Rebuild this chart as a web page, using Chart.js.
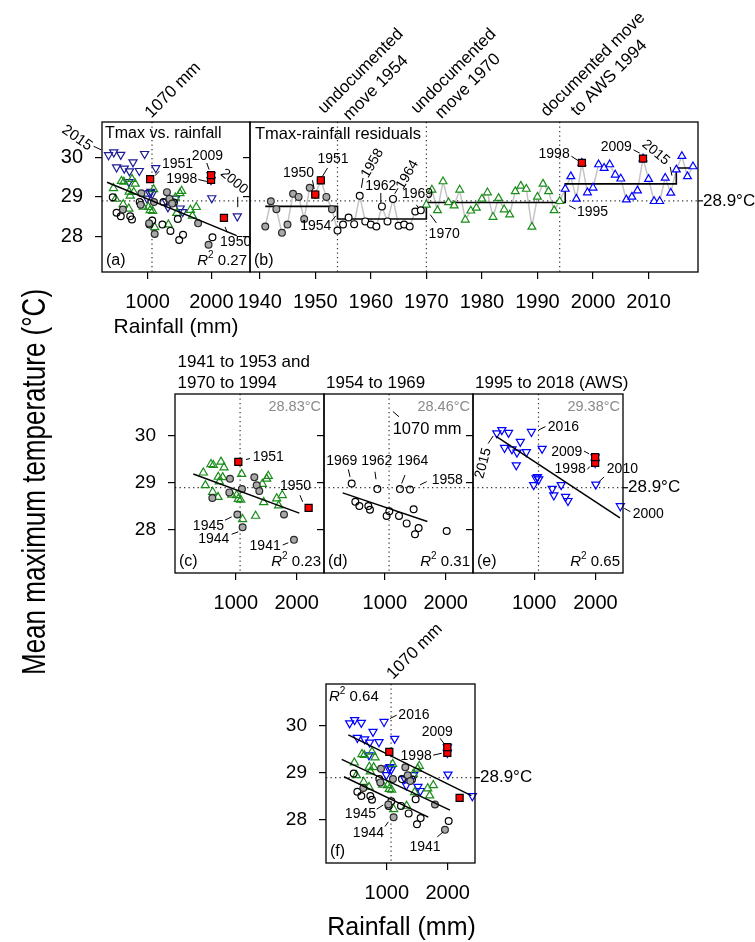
<!DOCTYPE html>
<html>
<head>
<meta charset="utf-8">
<script src="https://cdn.jsdelivr.net/npm/chart.js@4.4.1/dist/chart.umd.min.js"></script>
<style>
  body { margin: 0; background: #fff; }
  #wrap { position: relative; width: 755px; height: 942px; background: #fff; }
  #wrap canvas { position: absolute; left: 0; top: 0; }
</style>
</head>
<body>
<div id="wrap">
  <canvas id="pa" width="755" height="942"></canvas>
  <canvas id="pb" width="755" height="942"></canvas>
  <canvas id="pc" width="755" height="942"></canvas>
  <canvas id="pd" width="755" height="942"></canvas>
  <canvas id="pe" width="755" height="942"></canvas>
  <canvas id="pf" width="755" height="942"></canvas>
</div>
<script>
// ---- values ----
const rainTicks = [1000, 2000];
const tempTicks = [28, 29, 30];
const yearTicks = [1940, 1950, 1960, 1970, 1980, 1990, 2000, 2010];
const refTemp = 28.9;          // dotted horizontal line
const refRain = 1070;          // dotted vertical line (mm)
const moveYears = [1954, 1970, 1994];

// 1941 to 1953 (grey dots), without the red 1950 / 1951
const rain4153 = [904, 1304, 1343, 1386, 1101, 893, 614, 1025, 1112, 1792, 1956];
const tmax4153 = [29.09, 29.12, 28.95, 28.83, 28.87, 28.80, 28.68, 28.33, 28.06, 28.33, 27.79];
// 1954 to 1969 (open circles)
const rain5469 = [455, 877, 1249, 1414, 515, 581, 729, 756, 1074, 1030, 1233, 1474, 1359, 1556, 1496, 2017];
const tmax5469 = [28.99, 28.87, 28.87, 28.86, 28.60, 28.51, 28.51, 28.43, 28.40, 28.30, 28.30, 28.44, 28.14, 28.04, 27.91, 27.98];
// 1970 to 1994 (green triangles)
const rain7094 = [466, 592, 630, 756, 806, 712, 784, 729, 499, 1096, 1534, 1507, 1436, 619, 707, 932, 1014, 1041, 1080, 1458, 1672, 1764, 1704, 1112, 1326];
const tmax7094 = [29.22, 29.40, 29.38, 29.45, 29.33, 29.13, 29.12, 29.03, 28.95, 29.19, 29.15, 29.09, 28.98, 28.81, 28.70, 28.75, 28.74, 28.66, 28.64, 28.59, 28.67, 28.74, 28.52, 28.23, 28.30];
// 1995 to 2018 AWS (blue triangles)
const rainAWS = [389, 471, 581, 954, 773, 515, 636, 718, 871, 1129, 707, 1031, 1074, 1052, 992, 1294, 1441, 1320, 1512, 1551, 2006, 2406, 1995, 1995];
const tmaxAWS = [30.06, 30.13, 30.07, 30.09, 29.88, 29.75, 29.72, 29.65, 29.66, 29.73, 29.38, 29.10, 29.08, 29.13, 28.96, 28.88, 28.96, 28.74, 28.71, 28.62, 28.97, 28.51, 29.55, 29.43];
// red squares
const redYears = [1950, 1951, 1998, 2009];
const redRain = [2197, 1041, 1995, 1995];
const redTmax = [28.47, 29.45, 29.43, 29.55];

// panel (b) residual series
const resYears = [1941, 1942, 1943, 1944, 1945, 1946, 1947, 1948, 1949, 1950, 1951, 1952, 1953,
  1954, 1955, 1956, 1957, 1958, 1959, 1960, 1961, 1962, 1963, 1964, 1965, 1966, 1967, 1968, 1969,
  1970, 1971, 1972, 1973, 1974, 1975, 1976, 1977, 1978, 1979, 1980, 1981, 1982, 1983, 1984, 1985,
  1986, 1987, 1988, 1989, 1990, 1991, 1992, 1993, 1994,
  1995, 1996, 1997, 1998, 1999, 2000, 2001, 2002, 2003, 2004, 2005, 2006, 2007, 2008, 2009, 2010,
  2011, 2012, 2013, 2014, 2015, 2016, 2017, 2018];
const resTmax = [28.25, 28.89, 28.69, 28.09, 28.30, 29.08, 29.00, 28.44, 29.23, 29.06, 29.42, 29.00, 28.69,
  28.15, 28.30, 28.48, 28.31, 29.03, 28.38, 28.30, 28.25, 28.76, 28.38, 28.95, 28.27, 28.30, 28.25, 28.63, 28.66,
  28.80, 29.18, 28.66, 29.39, 28.86, 28.78, 29.18, 28.42, 28.65, 28.72, 28.95, 29.11, 28.49, 28.97, 28.68, 28.55,
  29.14, 29.28, 29.20, 28.24, 29.00, 29.33, 29.14, 28.66, 28.89,
  29.20, 29.52, 28.95, 29.86, 29.11, 29.23, 29.82, 29.73, 29.82, 29.56, 29.46, 28.93, 29.00, 29.16, 29.97, 29.45,
  28.89, 28.89, 29.48, 29.10, 29.69, 30.03, 29.52, 29.77];
const stepYears = [1941, 1954, 1970, 1995, 2015, 2018];
const stepMeans = [28.76, 28.44, 28.86, 29.33, 29.73, 29.73];

// fitted lines (end points)
const fitRainA = [366, 2397], fitTmaxA = [29.37, 28.02];
const fitRainC = [301, 2044], fitTmaxC = [29.19, 28.36];
const fitRainD = [307, 1699], fitTmaxD = [28.79, 28.18];
const fitRainE = [378, 2400], fitTmaxE = [29.99, 28.26];
const fitRainF1 = [367, 2390], fitTmaxF1 = [29.81, 28.52];
const fitRainF2 = [258, 2039], fitTmaxF2 = [29.29, 28.21];
const fitRainF3 = [296, 1682], fitTmaxF3 = [28.92, 28.06];

const periodMeans = ['28.83', '28.46', '29.38'];
const r2Values = {a: '0.27', c: '0.23', d: '0.31', e: '0.65', f: '0.64'};

// ---- helpers ----
const FONT = '"Liberation Sans", Arial, Helvetica, sans-serif';
Chart.defaults.font.family = FONT;
Chart.defaults.font.size = 14;
Chart.defaults.color = '#000';

const pts = (xs, ys) => xs.map((x, i) => ({x: x, y: ys[i]}));
const pick = (yrs) => resYears.map((yr, i) => ({x: yr, y: resTmax[i]})).filter(p => yrs(p.x));
const X = (c, v) => c.scales.x.getPixelForValue(v);
const Y = (c, v) => c.scales.y.getPixelForValue(v);

const CLEAR = 'rgba(0,0,0,0)';
const GREY = {pointStyle: 'circle', pointRadius: 3.4, pointBackgroundColor: '#a8a8a8', pointBorderColor: '#2a2a2a'};
const OPEN = {pointStyle: 'circle', pointRadius: 3.4, pointBackgroundColor: CLEAR, pointBorderColor: '#000'};
const GREEN = {pointStyle: 'triangle', pointRadius: 4.7, pointBackgroundColor: CLEAR, pointBorderColor: '#1a8c1a'};
const BLUE = {pointStyle: 'triangle', pointRotation: 180, pointRadius: 4.7, pointBackgroundColor: CLEAR, pointBorderColor: '#0000ff'};
const NAVY = Object.assign({}, BLUE, {pointBorderColor: '#1c1c96'});
const RED = {pointStyle: 'rect', pointRadius: 5, pointBackgroundColor: '#ff0000', pointBorderColor: '#000'};

function ds(data, style, extra) {
  return Object.assign({data: data, showLine: false, pointBorderWidth: 1.2, clip: false}, style, extra || {});
}
function fitLine(xs, ys) {
  return {data: pts(xs, ys), showLine: true, borderColor: '#000', borderWidth: 1.5, pointRadius: 0, clip: false};
}

function txt(ctx, s, x, y, o) {
  o = o || {};
  ctx.save();
  ctx.font = (o.style ? o.style + ' ' : '') + (o.size || 14) + 'px ' + FONT;
  ctx.fillStyle = o.color || '#000';
  ctx.textAlign = o.align || 'left';
  ctx.textBaseline = o.base || 'middle';
  ctx.translate(x, y);
  if (o.rot) ctx.rotate(o.rot * Math.PI / 180);
  if (o.sy) ctx.scale(1, o.sy);
  ctx.fillText(s, 0, 0);
  ctx.restore();
}

function r2(ctx, x, y, val, align) {
  ctx.save();
  ctx.textBaseline = 'middle';
  ctx.textAlign = 'left';
  ctx.fillStyle = '#000';
  const f1 = 'italic 15px ' + FONT, f2 = '10px ' + FONT, f3 = '15px ' + FONT;
  ctx.font = f1; const w1 = ctx.measureText('R').width;
  ctx.font = f2; const w2 = ctx.measureText('2').width;
  ctx.font = f3; const w3 = ctx.measureText(' ' + val).width;
  const x0 = align === 'right' ? x - (w1 + w2 + w3) : x;
  ctx.font = f1; ctx.fillText('R', x0, y);
  ctx.font = f2; ctx.fillText('2', x0 + w1, y - 6);
  ctx.font = f3; ctx.fillText(' ' + val, x0 + w1 + w2, y);
  ctx.restore();
}

function refLines(c, xs) {
  const ctx = c.ctx, a = c.chartArea;
  ctx.save();
  ctx.strokeStyle = '#333';
  ctx.lineWidth = 1.2;
  ctx.setLineDash([1.3, 3.2]);
  ctx.beginPath();
  const y = Y(c, refTemp);
  ctx.moveTo(a.left, y); ctx.lineTo(a.right, y);
  xs.forEach(v => { const x = X(c, v); ctx.moveTo(x, a.top); ctx.lineTo(x, a.bottom); });
  ctx.stroke();
  ctx.restore();
}

function frame(c) {
  const ctx = c.ctx, a = c.chartArea;
  ctx.save();
  ctx.strokeStyle = '#000';
  ctx.lineWidth = 1.3;
  ctx.strokeRect(a.left, a.top, a.right - a.left, a.bottom - a.top);
  ctx.restore();
}

function notes(c, labels, leaders) {
  const ctx = c.ctx;
  labels.forEach(l => txt(ctx, l.t, X(c, l.x), Y(c, l.y),
    {size: l.size || 14, align: l.al || 'center', rot: l.rot, base: l.base}));
  ctx.save();
  ctx.strokeStyle = '#000';
  ctx.lineWidth = 1;
  ctx.beginPath();
  leaders.forEach(s => { ctx.moveTo(X(c, s[0]), Y(c, s[1])); ctx.lineTo(X(c, s[2]), Y(c, s[3])); });
  ctx.stroke();
  ctx.restore();
}

function rightRef(c) {
  const ctx = c.ctx, a = c.chartArea, y = Y(c, refTemp);
  ctx.save();
  ctx.strokeStyle = '#000';
  ctx.lineWidth = 1.2;
  ctx.beginPath(); ctx.moveTo(a.right, y); ctx.lineTo(a.right + 5, y); ctx.stroke();
  ctx.restore();
  txt(ctx, '28.9°C', a.right + 5, y, {size: 17});
}

function meanTag(c, s) {
  const a = c.chartArea;
  txt(c.ctx, s + '°C', a.right - 3, a.top + 13, {size: 14.5, align: 'right', color: '#8a8a8a'});
}
function corner(c, tag, r2val) {
  const a = c.chartArea;
  txt(c.ctx, tag, a.left + 4, a.bottom - 11, {size: 16});
  if (r2val) r2(c.ctx, a.right - 3, a.bottom - 11, r2val, 'right');
}

function axis(min, max, ticks, fontSize, dir, size) {
  return {
    type: 'linear', min: min, max: max,
    afterBuildTicks: s => { s.ticks = ticks.map(v => ({value: v})); },
    afterFit: s => { if (dir === 'x') s.height = size; else s.width = size; },
    grid: {drawOnChartArea: false, drawTicks: true, tickLength: 7, color: '#000', lineWidth: 1.2},
    border: {display: false},
    ticks: {
      autoSkip: false, maxRotation: 0, minRotation: 0, padding: dir === 'x' ? 11 : 12,
      font: {size: fontSize || 12},
      callback: v => fontSize ? String(v) : ''
    }
  };
}

function panel(id, box, cfg) {
  const YW = cfg.yw || 10, XH = 50;
  return new Chart(document.getElementById(id), {
    type: 'scatter',
    data: {datasets: cfg.datasets},
    options: {
      responsive: false, animation: false, devicePixelRatio: 1, events: [],
      layout: {padding: {left: box[0] - YW, top: box[1], right: 755 - box[2], bottom: 942 - box[3] - XH}},
      plugins: {legend: {display: false}, tooltip: {enabled: false}},
      scales: {
        x: axis(cfg.x[0], cfg.x[1], cfg.xticks || rainTicks, cfg.xfont || 20, 'x', XH),
        y: axis(cfg.y[0], cfg.y[1], tempTicks, cfg.yfont, 'y', YW)
      }
    },
    plugins: [{
      id: 'deco_' + id,
      beforeDatasetsDraw: c => { if (cfg.under) cfg.under(c); },
      afterDatasetsDraw: c => { frame(c); if (cfg.over) cfg.over(c); }
    }]
  });
}

const yTop = [27.099, 30.896];
const yBot = [27.085, 30.894];
const rainRange = [0, 2450];

// ---- (a) Tmax vs. rainfall ----
panel('pa', [102, 122, 250, 272], {
  x: [287, 2605], y: yTop, yw: 60, yfont: 20,
  datasets: [
    ds(pts(redRain, redTmax), RED),
    fitLine(fitRainA, fitTmaxA),
    ds(pts(rain4153, tmax4153), GREY),
    ds(pts(rain5469, tmax5469), OPEN),
    ds(pts(rain7094, tmax7094), GREEN),
    ds(pts(rainAWS, tmaxAWS), NAVY)
  ],
  under: c => refLines(c, [refRain]),
  over: c => {
    const a = c.chartArea;
    txt(c.ctx, 'Tmax vs. rainfall', a.left + 3, a.top + 12, {size: 16});
    corner(c, '(a)', r2Values.a);
    txt(c.ctx, 'Rainfall (mm)', (a.left + a.right) / 2, a.bottom + 61, {size: 21, align: 'center', base: 'alphabetic'});
    notes(c, [
      {t: '1951', x: 1225, y: 29.82, al: 'left'},
      {t: '2009', x: 1938, y: 30.03},
      {t: '1998', x: 1781, y: 29.44, al: 'right'},
      {t: '2000', x: 2355, y: 29.39, rot: 40},
      {t: '1950', x: 2136, y: 27.85, al: 'left'},
      {t: '2015', x: -103, y: 30.49, rot: 35, size: 15},
      {t: '1070 mm', x: 1058, y: 30.98, al: 'left', base: 'alphabetic', rot: -45, size: 17}
    ], [
      [1183, 29.65, 1120, 29.54], [1928, 29.86, 1964, 29.69], [1797, 29.44, 1928, 29.39],
      [2413, 29.0, 2413, 28.74], [2214, 28.24, 2250, 28.10], [156, 30.28, 277, 30.19]
    ]);
  }
});

// ---- (b) residual series ----
panel('pb', [250, 122, 698, 272], {
  x: [1938.25, 2018.9], xticks: yearTicks, y: yTop,
  datasets: [
    ds(pick(y => redYears.includes(y)), RED),
    ds(pick(y => y <= 1953), GREY),
    ds(pick(y => y >= 1954 && y <= 1969), OPEN, {pointBackgroundColor: '#fff'}),
    ds(pick(y => y >= 1970 && y <= 1994), GREEN, {pointBackgroundColor: '#fff', pointRadius: 4.5}),
    ds(pick(y => y >= 1995), BLUE, {pointBackgroundColor: '#fff', pointRotation: 0, pointRadius: 4.5}),
    {data: pts(stepYears, stepMeans), showLine: true, stepped: 'before', borderColor: '#000', borderWidth: 1.6, pointRadius: 0, clip: false},
    {data: pts(resYears, resTmax), showLine: true, borderColor: '#c4c4c4', borderWidth: 1.5, pointRadius: 0}
  ],
  under: c => refLines(c, moveYears),
  over: c => {
    const a = c.chartArea;
    txt(c.ctx, 'Tmax-rainfall residuals', a.left + 5, a.top + 12, {size: 16.5});
    corner(c, '(b)', null);
    rightRef(c);
    notes(c, [
      {t: '1950', x: 1949.8, y: 29.59, al: 'right'},
      {t: '1951', x: 1953.2, y: 29.96},
      {t: '1954', x: 1952.9, y: 28.27, al: 'right'},
      {t: '1958', x: 1960.3, y: 29.85, rot: -60},
      {t: '1962', x: 1961.8, y: 29.28},
      {t: '1964', x: 1966.6, y: 29.56, rot: -60},
      {t: '1969', x: 1968.4, y: 29.08},
      {t: '1970', x: 1970.4, y: 28.06, al: 'left'},
      {t: '1998', x: 1995.8, y: 30.09, al: 'right'},
      {t: '2009', x: 2007.0, y: 30.26, al: 'right'},
      {t: '2015', x: 2011.3, y: 30.12, rot: 40},
      {t: '1995', x: 1997.1, y: 28.62, al: 'left'},
      {t: 'undocumented', x: 1958.2, y: 32.18, rot: -45, size: 17},
      {t: 'move 1954', x: 1960.9, y: 31.76, rot: -45, size: 17},
      {t: 'undocumented', x: 1974.9, y: 32.18, rot: -45, size: 17},
      {t: 'move 1970', x: 1977.5, y: 31.80, rot: -45, size: 17},
      {t: 'documented move', x: 2000.0, y: 32.35, rot: -45, size: 17},
      {t: 'to AWS 1994', x: 2002.9, y: 32.01, rot: -45, size: 17}
    ], [
      [1949.5, 29.42, 1949.8, 29.2], [1952.2, 29.73, 1951.3, 29.52], [1952.9, 28.38, 1953.7, 28.52],
      [1958.3, 29.23, 1958.6, 29.48], [1961.8, 29.10, 1961.8, 28.85], [1964.3, 29.08, 1964.9, 29.22],
      [1968.2, 28.80, 1968.6, 28.72], [1971.8, 28.34, 1970.7, 28.55], [1996.1, 30.03, 1997.3, 29.92],
      [2007.3, 30.19, 2008.4, 30.11], [2013.9, 29.76, 2014.2, 29.54], [1996.9, 28.69, 1995.7, 28.78]
    ]);
  }
});

// ---- (c) 1941-1953 and 1970-1994 ----
panel('pc', [175, 394, 324, 573], {
  x: rainRange, y: yBot, yw: 60, yfont: 19,
  datasets: [
    ds(pts(redRain.slice(0, 2), redTmax.slice(0, 2)), RED),
    fitLine(fitRainC, fitTmaxC),
    ds(pts(rain4153, tmax4153), GREY),
    ds(pts(rain7094, tmax7094), GREEN)
  ],
  under: c => refLines(c, [refRain]),
  over: c => {
    const a = c.chartArea;
    txt(c.ctx, '1941 to 1953 and', a.left + 2.5, a.top - 27, {size: 17, base: 'alphabetic'});
    txt(c.ctx, '1970 to 1994', a.left + 2.5, a.top - 6.5, {size: 17, base: 'alphabetic'});
    meanTag(c, periodMeans[0]);
    corner(c, '(c)', r2Values.c);
    notes(c, [
      {t: '1951', x: 1277, y: 29.55, al: 'left'},
      {t: '1950', x: 1726, y: 28.94, al: 'left'},
      {t: '1945', x: 806, y: 28.09, al: 'right'},
      {t: '1944', x: 893, y: 27.80, al: 'right'},
      {t: '1941', x: 1738, y: 27.66, al: 'right'}
    ], [
      [1167, 29.50, 1233, 29.52], [2055, 28.74, 2099, 28.60], [822, 28.21, 932, 28.28],
      [932, 27.91, 1041, 27.96], [1771, 27.68, 1863, 27.73]
    ]);
  }
});

// ---- (d) 1954-1969 ----
panel('pd', [324, 394, 473, 573], {
  x: rainRange, y: yBot,
  datasets: [
    fitLine(fitRainD, fitTmaxD),
    ds(pts(rain5469, tmax5469), OPEN)
  ],
  under: c => refLines(c, [refRain]),
  over: c => {
    const a = c.chartArea;
    txt(c.ctx, '1954 to 1969', a.left + 2, a.top - 6.5, {size: 17, base: 'alphabetic'});
    meanTag(c, periodMeans[1]);
    corner(c, '(d)', r2Values.d);
    notes(c, [
      {t: '1070 mm', x: 1129, y: 30.14, al: 'left', size: 16.5},
      {t: '1969', x: 291, y: 29.47},
      {t: '1962', x: 867, y: 29.47},
      {t: '1964', x: 1460, y: 29.47},
      {t: '1958', x: 1770, y: 29.06, al: 'left'}
    ], [
      [1134, 30.52, 1233, 30.41], [400, 29.29, 428, 29.13], [838, 29.24, 855, 29.08],
      [1332, 29.17, 1277, 28.99], [1688, 29.03, 1578, 28.96]
    ]);
  }
});

// ---- (e) 1995-2018 (AWS) ----
panel('pe', [473, 394, 623, 573], {
  x: rainRange, y: yBot,
  datasets: [
    ds(pts(redRain.slice(2), redTmax.slice(2)), RED),
    fitLine(fitRainE, fitTmaxE),
    ds(pts(rainAWS, tmaxAWS), BLUE)
  ],
  under: c => refLines(c, [refRain]),
  over: c => {
    const a = c.chartArea;
    txt(c.ctx, '1995 to 2018 (AWS)', a.left + 2, a.top - 6.5, {size: 17, base: 'alphabetic'});
    meanTag(c, periodMeans[2]);
    corner(c, '(e)', r2Values.e);
    rightRef(c);
    notes(c, [
      {t: '2016', x: 1222, y: 30.19, al: 'left'},
      {t: '2015', x: 169, y: 29.42, rot: -75},
      {t: '2009', x: 1787, y: 29.65, al: 'right'},
      {t: '1998', x: 1841, y: 29.29, al: 'right'},
      {t: '2010', x: 2186, y: 29.29, al: 'left'},
      {t: '2000', x: 2609, y: 28.34, al: 'left'}
    ], [
      [1074, 30.13, 1184, 30.20], [247, 29.84, 329, 30.0], [1813, 29.68, 1896, 29.62],
      [1869, 29.29, 1907, 29.35], [2142, 29.13, 2060, 29.03], [2471, 28.46, 2570, 28.39]
    ]);
  }
});

// ---- (f) all years with the three fits ----
panel('pf', [326, 684, 475, 863], {
  x: rainRange, y: yBot, yw: 60, yfont: 19,
  datasets: [
    ds(pts(redRain, redTmax), RED),
    fitLine(fitRainF1, fitTmaxF1),
    fitLine(fitRainF2, fitTmaxF2),
    fitLine(fitRainF3, fitTmaxF3),
    ds(pts(rain4153, tmax4153), GREY),
    ds(pts(rain5469, tmax5469), OPEN),
    ds(pts(rain7094, tmax7094), GREEN),
    ds(pts(rainAWS, tmaxAWS), BLUE)
  ],
  under: c => refLines(c, [refRain]),
  over: c => {
    const a = c.chartArea, ctx = c.ctx;
    r2(ctx, a.left + 3, a.top + 13, r2Values.f, 'left');
    corner(c, '(f)', null);
    rightRef(c);
    notes(c, [
      {t: '2016', x: 1190, y: 30.23, al: 'left'},
      {t: '2009', x: 1830, y: 29.88},
      {t: '1998', x: 1738, y: 29.36, al: 'right'},
      {t: '1945', x: 822, y: 28.12, al: 'right'},
      {t: '1944', x: 954, y: 27.72, al: 'right'},
      {t: '1941', x: 1628, y: 27.43},
      {t: '1070 mm', x: 1101, y: 30.98, al: 'left', base: 'alphabetic', rot: -45, size: 17}
    ], [
      [1052, 30.16, 1162, 30.23], [1874, 29.74, 1945, 29.62], [1764, 29.38, 1902, 29.42],
      [833, 28.23, 942, 28.32], [970, 27.86, 1024, 27.96], [1830, 27.64, 1929, 27.75]
    ]);
    // figure-wide axis titles
    txt(ctx, 'Rainfall (mm)', (a.left + a.right) / 2 + 1, a.bottom + 72, {size: 25, align: 'center', base: 'alphabetic'});
    txt(ctx, 'Mean maximum temperature (°C)', 45, 675, {size: 26, rot: -90, base: 'alphabetic', sy: 1.3});
  }
});
</script>
</body>
</html>
